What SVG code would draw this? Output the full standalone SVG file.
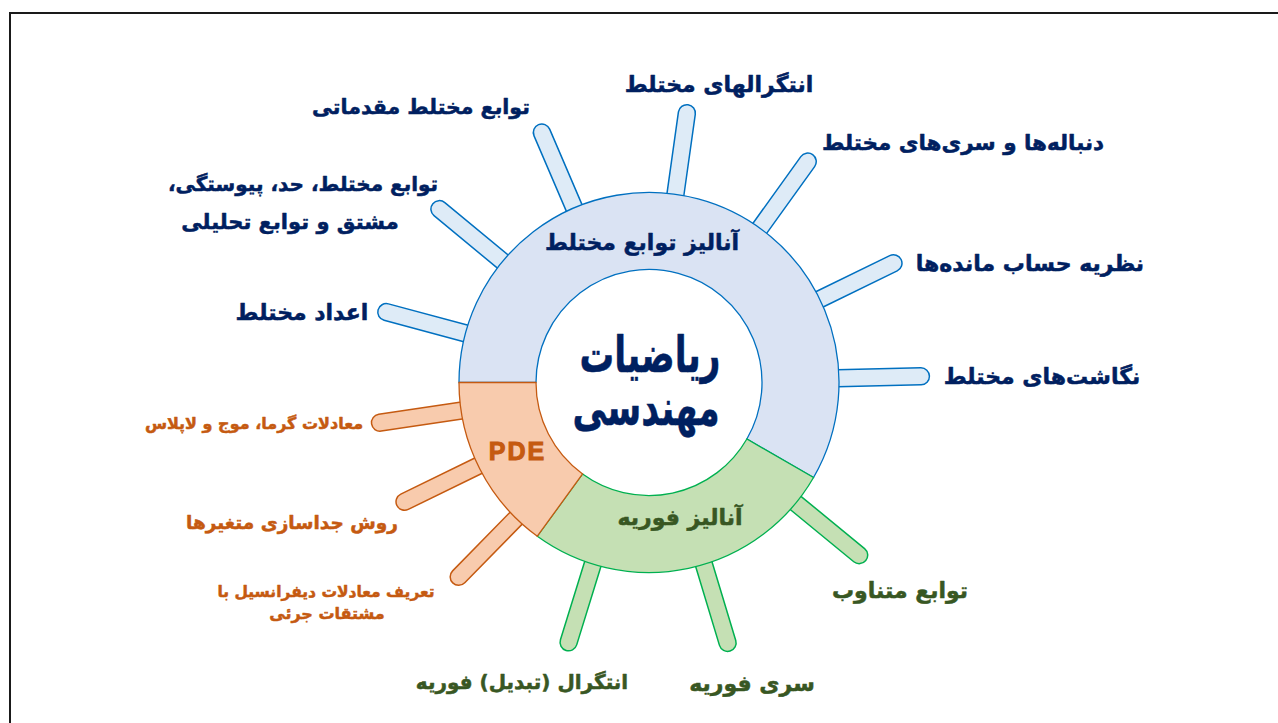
<svg xmlns="http://www.w3.org/2000/svg" width="1278" height="723" viewBox="0 0 1278 723">
<style>
.fa{font-family:"DejaVu Sans","Noto Sans",sans-serif;font-weight:bold;direction:rtl;text-anchor:middle;dominant-baseline:central;stroke-width:0.5;stroke-linejoin:round}
.navy{fill:#002060;stroke:#002060}
.grn{fill:#385723;stroke:#385723}
.org{fill:#c55a11;stroke:#c55a11}
.lbl{font-size:22px}
.sb{fill:#deebf7;stroke:#0070c0;stroke-width:1.5}
.sg{fill:#c5e0b4;stroke:#00b050;stroke-width:1.5}
.so{fill:#f8cbad;stroke:#c55a11;stroke-width:1.5}
</style>
<defs>
<rect id="spoke" x="180" y="-8.5" width="100.5" height="17" rx="8.5"/>
</defs>
<rect x="10" y="13" width="1300" height="800" fill="none" stroke="#1a1a1a" stroke-width="2"/>
<g id="connectors">
<g transform="translate(649,382.5)">
<use href="#spoke" class="sb" transform="rotate(195)"/>
<use href="#spoke" class="sb" transform="rotate(219.6)"/>
<use href="#spoke" class="sb" transform="rotate(246.8)"/>
<use href="#spoke" class="sb" transform="rotate(278)"/>
<use href="#spoke" class="sb" transform="rotate(305.7)"/>
<use href="#spoke" class="sb" transform="rotate(334)"/>
<use href="#spoke" class="sb" transform="rotate(358.7)"/>
<use href="#spoke" class="so" transform="rotate(171.5)"/>
<use href="#spoke" class="so" transform="rotate(154)"/>
<use href="#spoke" class="so" transform="rotate(134.4)"/>
<use href="#spoke" class="sg" transform="rotate(107.2)"/>
<use href="#spoke" class="sg" transform="rotate(73.2)"/>
<use href="#spoke" class="sg" transform="rotate(39.4)"/>
</g>
</g>
<g id="ring-complex">
<path d="M459,382.5 A190,190 0 1 1 813.54,477.5 L746.86,439 A113,113 0 1 0 536,382.5 Z" fill="#dae3f3" stroke="#0070c0" stroke-width="1.3"/>
<text class="fa navy" x="642" y="242" font-size="22">آنالیز توابع مختلط</text>
</g>
<g id="ring-fourier">
<path d="M813.54,477.5 A190,190 0 0 1 537.32,536.21 L582.58,473.92 A113,113 0 0 0 746.86,439 Z" fill="#c5e0b4" stroke="#00b050" stroke-width="1.3"/>
<text class="fa grn" x="680" y="517" font-size="22">آنالیز فوریه</text>
</g>
<g id="ring-pde">
<path d="M537.32,536.21 A190,190 0 0 1 459,382.5 L536,382.5 A113,113 0 0 0 582.58,473.92 Z" fill="#f8cbad" stroke="#c55a11" stroke-width="1.3"/>
<text x="517.5" y="451" font-family="'Liberation Sans',Arial,sans-serif" font-weight="bold" font-size="25" letter-spacing="2" fill="#c55a11" stroke="#c55a11" stroke-width="1" text-anchor="middle" dominant-baseline="central">PDE</text>
</g>
<g id="center">
<text class="fa navy" transform="translate(650,355) scale(0.72,1.05)" font-size="48" stroke-width="2.4">ریاضیات</text>
<text class="fa navy" transform="translate(646,408) scale(0.72,1.05)" font-size="48" stroke-width="2.4">مهندسی</text>
</g>
<g id="n-adad"><text class="fa navy lbl" x="302" y="312">اعداد مختلط</text></g>
<g id="n-tavabe-had">
<text class="fa navy" x="303" y="184" font-size="20">توابع مختلط، حد، پیوستگی،</text>
<text class="fa navy" x="290" y="222" font-size="21">مشتق و توابع تحلیلی</text>
</g>
<g id="n-moghadamati"><text class="fa navy" x="421" y="107" font-size="20.5">توابع مختلط مقدماتی</text></g>
<g id="n-integral-mokhtalet"><text class="fa navy lbl" x="719" y="84">انتگرالهای مختلط</text></g>
<g id="n-donbale"><text class="fa navy" x="963" y="142" font-size="21.5">دنباله‌ها و سری‌های مختلط</text></g>
<g id="n-mande"><text class="fa navy lbl" x="1030" y="263">نظریه حساب مانده‌ها</text></g>
<g id="n-negasht"><text class="fa navy lbl" x="1042" y="376">نگاشت‌های مختلط</text></g>
<g id="n-garma"><text class="fa org" x="254" y="423" font-size="16">معادلات گرما، موج و لاپلاس</text></g>
<g id="n-jodasazi"><text class="fa org" x="292" y="522" font-size="18.5">روش جداسازی متغیرها</text></g>
<g id="n-tarif">
<text class="fa org" x="326" y="592" font-size="15.5">تعریف معادلات دیفرانسیل با</text>
<text class="fa org" x="327" y="613" font-size="16">مشتقات جرئی</text>
</g>
<g id="n-motanaveb"><text class="fa grn lbl" x="900" y="590">توابع متناوب</text></g>
<g id="n-seri"><text class="fa grn lbl" x="752" y="683">سری فوریه</text></g>
<g id="n-tabdil"><text class="fa grn" x="522" y="682" font-size="20">انتگرال (تبدیل) فوریه</text></g>
</svg>
